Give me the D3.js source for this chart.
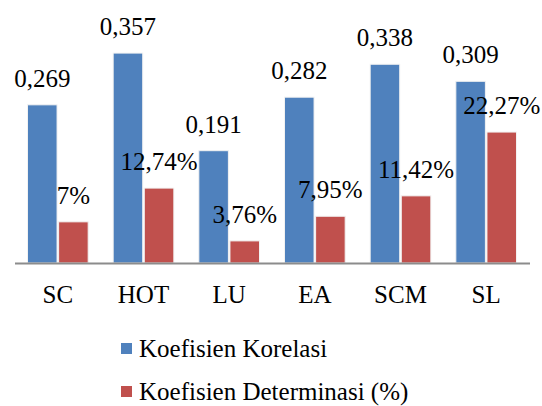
<!DOCTYPE html>
<meta charset="utf-8">
<title>koefisien</title>
<style>
body { margin: 0; background: #fff; }
</style>
<body>
<script src="https://d3js.org/d3.v7.min.js"></script>
<script>
var width = 542, height = 406;
var font = "'Liberation Serif', 'DejaVu Serif', serif";

var categories = ["SC", "HOT", "LU", "EA", "SCM", "SL"];
var korelasi = [0.269, 0.357, 0.191, 0.282, 0.338, 0.309];
var determinasi = [7, 12.74, 3.76, 7.95, 11.42, 22.27]; // in percent
var korelasiLabels = ["0,269", "0,357", "0,191", "0,282", "0,338", "0,309"];
var determinasiLabels = ["7%", "12,74%", "3,76%", "7,95%", "11,42%", "22,27%"];
var seriesNames = ["Koefisien Korelasi", "Koefisien Determinasi (%)"];
var colors = ["#4F81BD", "#C0504D"];

var svg = d3.select('body').append('svg')
    .attr('width', width)
    .attr('height', height)
    .attr('font-family', font);

var baseline = 263;
var x = d3.scaleBand()
    .domain(categories)
    .range([15, 529]);
var inner = d3.scaleBand()
    .domain([0, 1])
    .range([12.5, x.bandwidth() - 12.5])
    .paddingInner(0.05);
// both series share one scale; percentages are plotted as fractions
var y = d3.scaleLinear()
    .domain([0, 0.4])
    .range([baseline, baseline - 0.4 * 588]);

var rows = categories.map(function(c, i) {
  return [
    {cat: c, s: 0, v: korelasi[i], label: korelasiLabels[i]},
    {cat: c, s: 1, v: determinasi[i] / 100, label: determinasiLabels[i]}
  ];
});

var g = svg.selectAll('g.cat')
    .data(rows)
  .enter().append('g')
    .attr('class', 'cat')
    .attr('transform', function(d) { return 'translate(' + x(d[0].cat) + ',0)'; });

g.selectAll('rect')
    .data(function(d) { return d; })
  .enter().append('rect')
    .attr('x', function(d) { return inner(d.s); })
    .attr('width', inner.bandwidth())
    .attr('y', function(d) { return y(d.v); })
    .attr('height', function(d) { return baseline - y(d.v); })
    .attr('fill', function(d) { return colors[d.s]; })
    .attr('stroke', '#f2f2f2')
    .attr('stroke-width', 1);

g.selectAll('text.val')
    .data(function(d) { return d; })
  .enter().append('text')
    .attr('class', 'val')
    .attr('x', function(d) { return inner(d.s) + inner.bandwidth() / 2; })
    .attr('y', function(d) { return y(d.v) - 18; })
    .attr('text-anchor', 'middle')
    .attr('font-size', 25)
    .text(function(d) { return d.label; });

// axis line
svg.append('line')
    .attr('x1', 15).attr('x2', 530)
    .attr('y1', baseline + 0.5).attr('y2', baseline + 0.5)
    .attr('stroke', '#8c8c8c')
    .attr('stroke-width', 2);

svg.selectAll('text.catlabel')
    .data(categories)
  .enter().append('text')
    .attr('class', 'catlabel')
    .attr('x', function(d) { return x(d) + x.bandwidth() / 2; })
    .attr('y', 303)
    .attr('text-anchor', 'middle')
    .attr('font-size', 25)
    .text(function(d) { return d; });

// legend
var legend = svg.selectAll('g.legend')
    .data(seriesNames)
  .enter().append('g')
    .attr('class', 'legend')
    .attr('transform', function(d, i) { return 'translate(121,' + (357 + i * 43) + ')'; });
legend.append('rect')
    .attr('y', -14)
    .attr('width', 11)
    .attr('height', 11)
    .attr('fill', function(d, i) { return colors[i]; });
legend.append('text')
    .attr('x', 18)
    .attr('font-size', 25)
    .text(function(d) { return d; });
</script>
